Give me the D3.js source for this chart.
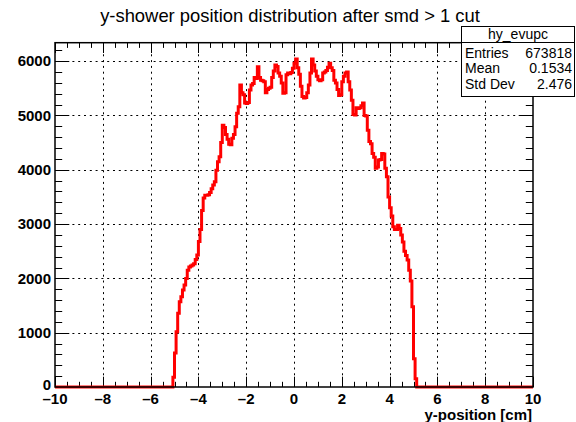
<!DOCTYPE html>
<html><head><meta charset="utf-8">
<script src="https://cdn.jsdelivr.net/npm/d3@7"></script>
<style>
body{margin:0;background:#fff}
svg{display:block}
text{font-family:"Liberation Sans",Arial,Helvetica,sans-serif}
</style>
</head><body>
<svg id="c" width="576" height="422"></svg>
<script>
const title = "y-shower position distribution after smd > 1 cut";
const xTitle = "y-position [cm]";
const xRange = [-10, 10];
const nBins = 300;
const firstBin = 74;
const counts = [
 180, 625, 1018, 1360, 1570, 1662, 1785, 1877, 2000, 2150,
 2210, 2230, 2245, 2270, 2350, 2430, 2680, 2900, 3250, 3480,
 3530, 3530, 3540, 3580, 3650, 3720, 3780, 3990, 4150, 4240,
 4500, 4820, 4780, 4650, 4560, 4470, 4460, 4580, 4650, 4790,
 5040, 5160, 5560, 5420, 5380, 5230, 5220, 5240, 5470, 5560,
 5590, 5700, 5680, 5895, 5700, 5650, 5640, 5620, 5420, 5480,
 5500, 5520, 5700, 5820, 5930, 5900, 5780, 5720, 5600, 5410,
 5420, 5750, 5780, 5770, 5790, 5870, 5960, 6040, 5880, 5760,
 5540, 5350, 5320, 5330, 5420, 5560, 5780, 6040, 5930, 5820,
 5720, 5660, 5640, 5660, 5780, 5800, 5830, 5890, 5960, 5880,
 5830, 5650, 5600, 5480, 5370, 5380, 5620, 5720, 5780, 5800,
 5620, 5470, 5280, 5020, 5010, 5140, 5130, 5140, 5180, 5230,
 5000, 4990, 4730, 4520, 4480, 4300, 4230, 4030, 4050, 4180,
 4190, 4300, 4290, 4030, 3870, 3500, 3300, 3150, 2950, 2900,
 2900, 2980, 2920, 2800, 2670, 2500, 2420, 2340, 2150, 1950,
 1480, 520, 150
];
const xTicks = [-10, -8, -6, -4, -2, 0, 2, 4, 6, 8, 10];
const yTicks = [0, 1000, 2000, 3000, 4000, 5000, 6000];
const yMax = 6340;
const statsName = "hy_evupc";
const statsLabels = ["Entries", "Mean", "Std Dev"];
const statsValues = ["673818", "0.1534", "2.476"];

const svg = d3.select("#c");
const L = 55, R = 533, T = 42.7, B = 387;
const x = d3.scaleLinear().domain(xRange).range([L, R]);
const y = d3.scaleLinear().domain([0, yMax]).range([B, T]);
const fmt = d => d < 0 ? "\u2013" + (-d) : String(d);

// full histogram
const bw = (xRange[1] - xRange[0]) / nBins;
const hist = [];
for (let k = 0; k < nBins; k++) {
  const v = (k >= firstBin && k < firstBin + counts.length) ? counts[k - firstBin] : 0;
  hist.push({lo: xRange[0] + k * bw, hi: xRange[0] + (k + 1) * bw, v});
}

// grid
const grid = svg.append("g").attr("stroke", "#000").attr("stroke-width", 1)
  .attr("stroke-dasharray", "2,3.8");
xTicks.filter(d => d > xRange[0] && d < xRange[1]).forEach(d => {
  grid.append("line").attr("x1", Math.round(x(d)) + 0.5).attr("x2", Math.round(x(d)) + 0.5)
    .attr("y1", T).attr("y2", B);
});
yTicks.filter(d => d > 0).forEach(d => {
  grid.append("line").attr("y1", Math.round(y(d)) + 0.5).attr("y2", Math.round(y(d)) + 0.5)
    .attr("x1", L).attr("x2", R);
});

// axes with inward ticks
const xMinor = d3.range(xRange[0], xRange[1] + 0.001, 0.5);
const yMinor = d3.range(0, yMax, 200);
const xMajLen = 10.3, xMinLen = 5.2, yMajLen = 14.3, yMinLen = 7.2;
const tk = svg.append("g").attr("stroke", "#000").attr("stroke-width", 1);
xMinor.forEach(d => {
  const maj = Number.isInteger(d) && d % 2 === 0;
  const len = maj ? xMajLen : xMinLen;
  const px = Math.round(x(d)) + 0.5;
  tk.append("line").attr("x1", px).attr("x2", px).attr("y1", B).attr("y2", B - len);
  tk.append("line").attr("x1", px).attr("x2", px).attr("y1", T).attr("y2", T + len);
});
yMinor.forEach(d => {
  const maj = d % 1000 === 0;
  const len = maj ? yMajLen : yMinLen;
  const py = Math.round(y(d)) + 0.5;
  tk.append("line").attr("y1", py).attr("y2", py).attr("x1", L).attr("x2", L + len);
  tk.append("line").attr("y1", py).attr("y2", py).attr("x1", R).attr("x2", R - len);
});

// histogram
svg.append("clipPath").attr("id", "fr").append("rect")
  .attr("x", L).attr("y", T).attr("width", R - L).attr("height", B - T + 2);
const pts = [];
hist.forEach(b => { pts.push([b.lo, b.v]); pts.push([b.hi, b.v]); });
svg.append("path").attr("clip-path", "url(#fr)")
  .attr("d", d3.line().x(p => x(p[0])).y(p => y(p[1]))(pts))
  .attr("fill", "none").attr("stroke", "#ff0000").attr("stroke-width", 3)
  .attr("stroke-linejoin", "miter");

// frame
svg.append("rect").attr("x", L).attr("y", T).attr("width", R - L).attr("height", B - T)
  .attr("fill", "none").attr("stroke", "#000").attr("stroke-width", 1.5);

// tick labels
xTicks.forEach(d => {
  svg.append("text").attr("x", x(d)).attr("y", 403.5).attr("text-anchor", "middle")
    .attr("font-size", 15).attr("font-weight", "bold").text(fmt(d));
});
yTicks.forEach(d => {
  svg.append("text").attr("x", 51).attr("y", y(d) + (d === 0 ? 3 : 5.2)).attr("text-anchor", "end")
    .attr("font-size", 15).attr("font-weight", "bold").text(fmt(d));
});

// axis title
svg.append("text").attr("x", R - 1).attr("y", 419.5).attr("text-anchor", "end")
  .attr("font-size", 15).attr("font-weight", "bold").text(xTitle);

// title
svg.append("text").attr("x", 290).attr("y", 22).attr("text-anchor", "middle")
  .attr("font-size", 18.4).text(title);

// stats box
const sx = 461.5, sy = 26.5, sw = 113, sh = 70;
const st = svg.append("g");
st.append("rect").attr("x", sx).attr("y", sy).attr("width", sw).attr("height", sh)
  .attr("fill", "#fff").attr("stroke", "#000").attr("stroke-width", 1);
st.append("line").attr("x1", sx).attr("x2", sx + sw).attr("y1", 42.5).attr("y2", 42.5)
  .attr("stroke", "#000").attr("stroke-width", 1);
st.append("text").attr("x", sx + sw / 2).attr("y", 39).attr("text-anchor", "middle")
  .attr("font-size", 14).text(statsName);
statsLabels.forEach((lab, i) => {
  const by = 57.5 + i * 15.5;
  st.append("text").attr("x", 465).attr("y", by).attr("font-size", 14).text(lab);
  st.append("text").attr("x", 572).attr("y", by).attr("text-anchor", "end")
    .attr("font-size", 14).text(statsValues[i]);
});
</script>
</body></html>
